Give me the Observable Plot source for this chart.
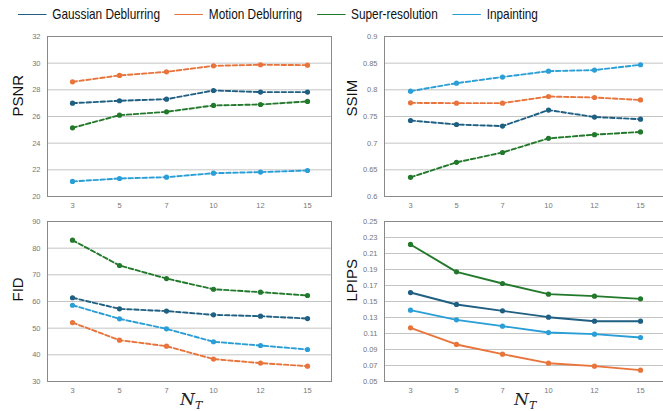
<!DOCTYPE html>
<html>
<head>
<meta charset="utf-8">
<script src="https://cdn.jsdelivr.net/npm/d3@7"></script>
<script src="https://cdn.jsdelivr.net/npm/@observablehq/plot@0.6"></script>
<style>
  html, body { margin: 0; padding: 0; background: #fff; overflow: hidden; }
  #root { position: relative; width: 663px; height: 411px; font-family: "Liberation Sans", Arial, sans-serif; }
  .panel { position: absolute; }
  #legend { position: absolute; left: 18px; top: 6px; display: flex; align-items: center; font-family: "Liberation Sans", Arial, sans-serif; font-size: 14.5px; color: #111; white-space: nowrap; transform: scaleX(0.815); transform-origin: 0 50%; }
  .item { display: flex; align-items: center; margin-right: 18px; }
  .swatch { width: 35px; height: 0; border-top: 1.7px solid; margin-right: 7px; }
  .xlab { position: absolute; font-family: "DejaVu Serif", "Liberation Serif", serif; font-style: italic; font-size: 17px; color: #222; }
  .xlab sub { font-size: 11px; }
</style>
</head>
<body>
<div id="root">
  <div id="legend"></div>
</div>
<script>
const NT = [3, 5, 7, 10, 12, 15];
const series = ["Gaussian Deblurring", "Motion Deblurring", "Super-resolution", "Inpainting"];
const colors = ["#1E5F82", "#E8743B", "#22792B", "#2A9ED6"];

const psnrGaussian = [27.0, 27.18, 27.3, 27.95, 27.83, 27.83];
const psnrMotion   = [28.6, 29.08, 29.35, 29.8, 29.88, 29.85];
const psnrSuper    = [25.15, 26.1, 26.35, 26.83, 26.9, 27.13];
const psnrInpaint  = [21.13, 21.35, 21.45, 21.75, 21.83, 21.95];

const ssimGaussian = [0.7425, 0.735, 0.732, 0.762, 0.749, 0.745];
const ssimMotion   = [0.7756, 0.775, 0.775, 0.7875, 0.7856, 0.781];
const ssimSuper    = [0.636, 0.664, 0.6825, 0.709, 0.716, 0.721];
const ssimInpaint  = [0.7975, 0.8125, 0.824, 0.835, 0.837, 0.847];

const fidGaussian = [61.4, 57.25, 56.4, 55.0, 54.5, 53.6];
const fidMotion   = [52.1, 45.5, 43.25, 38.4, 36.9, 35.75];
const fidSuper    = [83.0, 73.5, 68.6, 64.6, 63.5, 62.25];
const fidInpaint  = [58.6, 53.5, 49.75, 44.9, 43.5, 42.0];

const lpipsGaussian = [0.1612, 0.1463, 0.1383, 0.1304, 0.1254, 0.1254];
const lpipsMotion   = [0.1171, 0.0963, 0.0842, 0.0729, 0.0692, 0.0642];
const lpipsSuper    = [0.2213, 0.1871, 0.1725, 0.1592, 0.1567, 0.1533];
const lpipsInpaint  = [0.1392, 0.1271, 0.1192, 0.1112, 0.1092, 0.105];

const psnrTicks = [20, 22, 24, 26, 28, 30, 32];
const ssimTicks = [0.6, 0.65, 0.7, 0.75, 0.8, 0.85, 0.9];
const fidTicks = [30, 40, 50, 60, 70, 80, 90];
const lpipsTicks = [0.05, 0.07, 0.09, 0.11, 0.13, 0.15, 0.17, 0.19, 0.21, 0.23, 0.25];

function toRows(arrs) {
  const rows = [];
  arrs.forEach((vals, si) => vals.forEach((v, i) => rows.push({ nt: NT[i], value: v, series: series[si] })));
  return rows;
}

// legend
const legend = document.getElementById("legend");
series.forEach((s, i) => {
  const it = document.createElement("div");
  it.className = "item";
  const sw = document.createElement("div");
  sw.className = "swatch";
  sw.style.borderTopColor = colors[i];
  const tx = document.createElement("span");
  tx.textContent = s;
  it.appendChild(sw); it.appendChild(tx);
  legend.appendChild(it);
});

const root = document.getElementById("root");

function panel({ arrs, ticks, label, left, top, width, marginLeft, marginRight, dashed, labelDx }) {
  const rows = toRows(arrs);
  const dom = [ticks[0], ticks[ticks.length - 1]];
  const p = Plot.plot({
    width, height: 190,
    marginLeft, marginRight, marginTop: 10, marginBottom: 20,
    style: { background: "transparent", fontFamily: "Liberation Sans, Arial, sans-serif", overflow: "visible" },
    x: { type: "point", domain: NT, padding: 0.5 },
    y: { domain: dom },
    color: { domain: series, range: colors },
    marks: [
      Plot.gridY(ticks, { stroke: "#c4c4c4", strokeOpacity: 1, strokeWidth: 1 }),
      Plot.frame({ stroke: "#8a8a8a", strokeWidth: 1 }),
      Plot.axisY({ ticks, tickSize: 0, tickPadding: 7, fontSize: 7.5, fill: "#777", label: null,
        tickFormat: d => String(+d.toFixed(2)) }),
      Plot.axisX({ tickSize: 0, tickPadding: 6, fontSize: 7.5, fill: "#777", label: null }),
      Plot.line(rows, { x: "nt", y: "value", z: "series", stroke: "series", strokeWidth: 1.9,
        strokeDasharray: dashed ? "4.5,2.5" : null }),
      Plot.dot(rows, { x: "nt", y: "value", fill: "series", r: 2.6 }),
      Plot.text([label], { frameAnchor: "left", dx: labelDx, rotate: -90, fontSize: 15, fill: "#111",
        fontFamily: "Liberation Sans, Arial, sans-serif" })
    ]
  });
  p.classList.add("panel");
  p.style.left = left + "px";
  p.style.top = top + "px";
  root.appendChild(p);
}

panel({ arrs: [psnrGaussian, psnrMotion, psnrSuper, psnrInpaint], ticks: psnrTicks, label: "PSNR",
  left: 0, top: 26, width: 340, marginLeft: 47, marginRight: 9, dashed: true, labelDx: -29 });
panel({ arrs: [ssimGaussian, ssimMotion, ssimSuper, ssimInpaint], ticks: ssimTicks, label: "SSIM",
  left: 330, top: 26, width: 335, marginLeft: 54, marginRight: 0, dashed: true, labelDx: -32 });
panel({ arrs: [fidGaussian, fidMotion, fidSuper, fidInpaint], ticks: fidTicks, label: "FID",
  left: 0, top: 211, width: 340, marginLeft: 47, marginRight: 9, dashed: true, labelDx: -29 });
panel({ arrs: [lpipsGaussian, lpipsMotion, lpipsSuper, lpipsInpaint], ticks: lpipsTicks, label: "LPIPS",
  left: 330, top: 211, width: 335, marginLeft: 54, marginRight: 0, dashed: false, labelDx: -32 });

// x labels
[[180, 389], [514, 389]].forEach(([x, y]) => {
  const d = document.createElement("div");
  d.className = "xlab";
  d.style.left = x + "px";
  d.style.top = y + "px";
  d.innerHTML = "N<sub>T</sub>";
  root.appendChild(d);
});
</script>
</body>
</html>
